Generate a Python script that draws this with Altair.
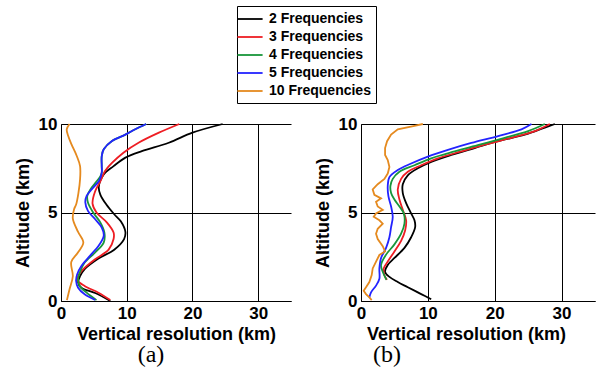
import altair as alt
import pandas as pd

SERIES = ["2 Frequencies", "3 Frequencies", "4 Frequencies", "5 Frequencies", "10 Frequencies"]
COLORS = ["#000000", "#ee1d23", "#18963a", "#2323ff", "#e58a1f"]

# ---------- panel (a) ----------
a2_alt = [0.0, 0.45, 0.75, 1.05, 1.4, 1.8, 2.4, 2.9, 3.5, 3.9, 4.5, 4.9, 5.45, 6.0, 6.45, 7.15, 7.62, 8.1, 8.47, 8.94, 9.51, 10.0]
a2_x = [7.5, 5.2, 3.1, 2.6, 2.9, 3.6, 5.7, 8.1, 9.6, 9.8, 9.1, 8.1, 6.9, 6.0, 5.75, 6.5, 8.0, 9.8, 12.3, 16.4, 20.0, 24.6]

a3_alt = [0.05, 0.47, 0.85, 1.13, 1.4, 1.8, 2.36, 2.9, 3.5, 3.87, 4.43, 5.0, 5.5, 6.2, 6.77, 7.34, 7.8, 8.38, 8.94, 9.51, 10.0]
a3_x = [7.5, 5.7, 3.6, 2.6, 2.6, 3.4, 5.2, 7.25, 8.0, 8.0, 7.0, 5.4, 4.8, 5.2, 6.0, 6.7, 7.76, 9.5, 11.8, 14.9, 18.0]

a4_alt = [0.05, 0.47, 0.85, 1.23, 1.6, 2.17, 2.74, 3.3, 3.87, 4.43, 5.0, 5.57, 5.94, 6.32, 6.7, 7.05, 7.25, 7.62, 8.19, 8.57, 9.04, 9.4, 9.7, 10.0]
a4_x = [5.4, 3.9, 2.85, 2.6, 2.85, 3.6, 5.2, 6.5, 6.6, 6.0, 4.9, 4.1, 4.0, 4.5, 5.3, 6.0, 6.2, 6.2, 6.2, 6.5, 7.76, 9.8, 11.3, 12.96]

a5_alt = [0.06, 0.38, 0.75, 1.13, 1.5, 1.98, 2.55, 3.11, 3.68, 4.15, 4.62, 5.09, 5.57, 5.94, 6.32, 6.79, 7.25, 7.62, 8.19, 8.57, 9.04, 9.4, 9.7, 10.0]
a5_x = [5.2, 3.6, 2.6, 2.3, 2.45, 3.1, 4.4, 5.7, 6.5, 6.2, 5.2, 4.1, 3.7, 3.9, 4.7, 5.8, 6.2, 6.2, 6.2, 6.5, 7.76, 9.8, 11.3, 12.96]

a10_alt = [0.05, 0.66, 1.4, 2.2, 2.75, 3.3, 3.9, 4.65, 5.2, 5.45, 6.1, 6.87, 7.62, 8.19, 8.85, 9.32, 9.7, 10.0]
a10_x = [0.9, 1.3, 1.8, 1.56, 2.6, 3.4, 2.6, 1.8, 2.0, 2.3, 2.65, 2.9, 2.9, 2.4, 1.6, 1.1, 0.87, 1.3]

# ---------- panel (b) ----------
b2_alt = [0.1, 0.39, 0.78, 1.07, 1.36, 1.65, 2.04, 2.43, 3.0, 3.6, 4.17, 4.56, 4.95, 5.53, 6.1, 6.6, 7.1, 7.5, 7.86, 8.25, 8.64, 9.03, 9.4, 9.8, 10.0]
b2_x = [10.5, 9.0, 7.0, 5.5, 4.25, 3.6, 4.0, 5.0, 6.5, 7.5, 8.1, 8.0, 7.5, 6.75, 6.25, 6.25, 7.0, 8.5, 10.5, 13.5, 17.0, 20.5, 24.5, 27.5, 29.0]

b3_alt = [1.2, 1.46, 1.84, 2.23, 2.8, 3.4, 3.98, 4.56, 5.15, 5.73, 6.3, 6.9, 7.3, 7.67, 8.06, 8.45, 8.83, 9.22, 9.6, 10.0]
b3_x = [3.9, 3.5, 3.4, 4.0, 5.0, 6.0, 6.6, 6.75, 6.25, 5.75, 5.5, 6.0, 7.0, 9.0, 11.5, 15.0, 18.5, 22.5, 26.0, 28.25]

b4_alt = [1.2, 1.65, 2.04, 2.62, 3.2, 3.8, 4.37, 4.95, 5.34, 5.73, 6.1, 6.5, 6.9, 7.3, 7.67, 8.06, 8.45, 8.83, 9.22, 9.6, 10.0]
b4_x = [3.8, 3.25, 3.0, 3.75, 5.0, 6.0, 6.5, 6.4, 5.75, 5.0, 4.5, 4.4, 4.75, 5.75, 8.0, 10.5, 14.0, 17.75, 21.5, 25.0, 27.5]

b5_alt = [0.2, 0.49, 0.87, 1.26, 1.84, 2.43, 3.0, 3.6, 4.17, 4.76, 5.34, 5.92, 6.5, 7.0, 7.4, 7.77, 8.16, 8.54, 8.93, 9.32, 9.7, 10.0]
b5_x = [1.25, 1.5, 2.25, 2.75, 2.75, 3.0, 3.75, 4.25, 4.5, 4.75, 4.5, 4.1, 4.0, 4.25, 5.5, 7.5, 10.0, 13.0, 16.5, 20.5, 24.0, 25.5]

b10_alt = [0.05, 0.2, 0.39, 0.58, 0.78, 1.07, 1.46, 1.84, 2.23, 2.6, 2.8, 3.1, 3.5, 3.8, 4.08, 4.37, 4.56, 4.76, 4.95, 5.15, 5.34, 5.6, 5.8, 6.0, 6.3, 6.6, 6.9, 7.2, 7.57, 7.96, 8.25, 8.64, 9.03, 9.4, 9.7, 9.9, 10.0]
b10_x = [1.6, 1.25, 0.75, 0.4, 0.75, 1.25, 1.6, 1.75, 2.25, 2.75, 3.6, 3.25, 2.5, 2.25, 2.5, 3.25, 2.75, 1.9, 2.25, 3.25, 2.5, 2.25, 3.0, 2.0, 1.75, 2.5, 3.5, 4.0, 4.25, 4.0, 3.6, 3.6, 3.9, 4.5, 5.5, 8.0, 9.25]

X_TICKS = [0, 10, 20, 30]
Y_TICKS = [0, 5, 10]

panel_data = {
    "a": [(a2_alt, a2_x), (a3_alt, a3_x), (a4_alt, a4_x), (a5_alt, a5_x), (a10_alt, a10_x)],
    "b": [(b2_alt, b2_x), (b3_alt, b3_x), (b4_alt, b4_x), (b5_alt, b5_x), (b10_alt, b10_x)],
}

rows = []
for pid, lst in panel_data.items():
    for name, (alts, xs) in zip(SERIES, lst):
        for i, (h, v) in enumerate(zip(alts, xs)):
            rows.append({"panel": pid, "series": name, "alt": h, "res": v, "ord": i})
df = pd.DataFrame(rows)

legend_a = alt.Legend(
    title=None, orient="none", legendX=176, legendY=-118,
    symbolType="M-1.8,0H1.8", symbolSize=196, symbolStrokeWidth=1.8,
    labelFont="Liberation Sans", labelFontSize=14, labelFontWeight="bold",
    labelColor="black", strokeColor="black", fillColor="white",
    padding=5, rowPadding=3, labelOffset=11, cornerRadius=0, labelLimit=300,
)


def make_panel(pid, show_legend, label, label_dx, width, xtitle_x=None):
    sub = df[df.panel == pid]
    xaxis_kw = dict(values=X_TICKS, title="Vertical resolution (km)", labelFlush=False,
                    labelPadding=4, titlePadding=4)
    if xtitle_x is not None:
        xaxis_kw["titleX"] = xtitle_x
    layers = []
    for s in SERIES:
        interp = "linear" if (pid == "b" and s == "10 Frequencies") else "catmull-rom"
        layers.append(
            alt.Chart(sub[sub.series == s]).mark_line(strokeWidth=1.8, interpolate=interp).encode(
                x=alt.X("res:Q", scale=alt.Scale(domain=[0, 35], nice=False, zero=False),
                        axis=alt.Axis(**xaxis_kw)),
                y=alt.Y("alt:Q", scale=alt.Scale(domain=[0, 10], nice=False),
                        axis=alt.Axis(values=Y_TICKS, title="Altitude (km)", labelFlush=False,
                                      labelPadding=4, titlePadding=6)),
                order=alt.Order("ord:Q"),
                color=alt.Color("series:N", scale=alt.Scale(domain=SERIES, range=COLORS),
                                legend=legend_a if show_legend else None),
            )
        )
    return alt.layer(*layers).properties(
        width=width, height=177,
        title=alt.TitleParams(label, orient="bottom", anchor="middle", dx=label_dx,
                              font="Liberation Serif", fontSize=24, fontWeight="normal",
                              color="black", offset=0),
    )


pa = make_panel("a", True, "(a)", -25, 230)
pb = make_panel("b", False, "(b)", -91, 234, xtitle_x=105)

chart = (
    alt.hconcat(pa, pb, spacing=70, bounds="flush")
    .resolve_scale(color="independent", x="independent", y="independent")
    .resolve_legend(color="independent")
    .properties(padding={"left": 14, "top": 5, "right": 2, "bottom": 0})
    .configure_view(stroke=None)
    .configure_axis(
        grid=True, gridColor="black", gridOpacity=1, gridWidth=1,
        domainColor="black", domainWidth=1, ticks=False,
        labelFont="Liberation Sans", labelFontSize=17, labelFontWeight="bold", labelColor="black",
        titleFont="Liberation Sans", titleFontSize=18, titleFontWeight="bold", titleColor="black",
    )
)

chart.save("out.html", embed_options={"renderer": "svg", "actions": False})
